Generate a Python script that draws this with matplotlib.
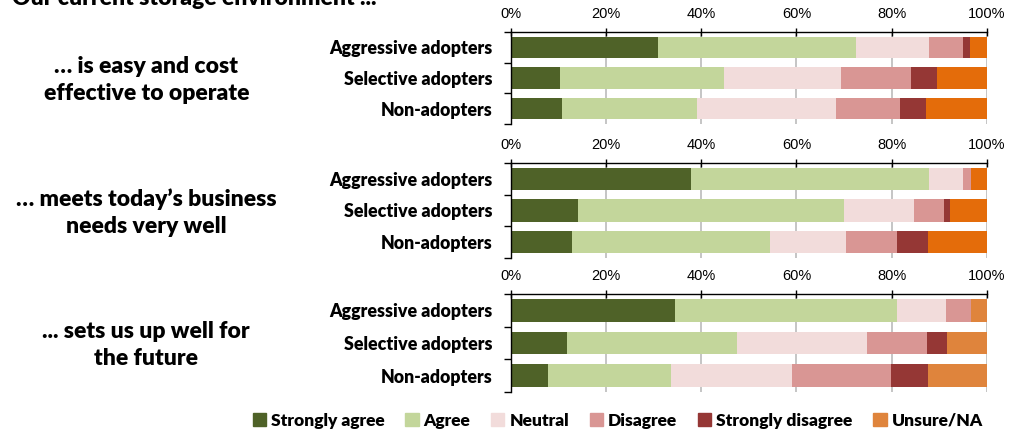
import numpy as np
import matplotlib
matplotlib.use("Agg")
import matplotlib.pyplot as plt
from matplotlib.patches import Patch

groups = ["Aggressive adopters", "Selective adopters", "Non-adopters"]
answers = ["Strongly agree", "Agree", "Neutral", "Disagree", "Strongly disagree", "Unsure/NA"]

statements = [
    "… is easy and cost\neffective to operate",
    "… meets today’s business\nneeds very well",
    "... sets us up well for\nthe future",
]

# share of respondents (%) per group, columns follow `answers`
easy_cost = [
    [30.9, 41.5, 15.5, 7.0, 1.5, 3.6],
    [10.4, 34.4, 24.5, 14.7, 5.6, 10.4],
    [10.8, 28.3, 29.2, 13.4, 5.4, 12.9],
]
business_needs = [
    [37.9, 50.0, 7.0, 1.7, 0.0, 3.4],
    [14.1, 55.9, 14.7, 6.3, 1.3, 7.7],
    [12.9, 41.5, 16.0, 10.8, 6.4, 12.4],
]
future = [
    [34.5, 46.6, 10.3, 5.2, 0.0, 3.4],
    [11.9, 35.6, 27.4, 12.6, 4.2, 8.3],
    [7.9, 25.8, 25.3, 20.8, 7.8, 12.4],
]

colors = ["#4F6228", "#C3D69B", "#F2DCDB", "#D99694", "#953735", "#E46C0A"]
unsure_light = "#DF843C"

plt.rcParams["font.family"] = ["Liberation Sans", "DejaVu Sans"]
bold = ["Lato", "DejaVu Sans"]
heavy = 800

fig = plt.figure(figsize=(10.23, 4.33), dpi=100)

# heading sits partly above the top edge
fig.text(0.012, 1.0 - 5 / 433, "Our current storage environment ...", fontsize=16.5,
         fontweight=heavy, family=bold, ha="left", va="baseline")

panels = [(0.926, 0.714), (0.624, 0.404), (0.321, 0.095)]
x0, w = 0.4992, 0.4656

for k, (data, stmt, (top, bot)) in enumerate(zip([easy_cost, business_needs, future],
                                                  statements, panels)):
    ax = fig.add_axes([x0, bot, w, top - bot])
    vals = np.array(data)
    y = np.arange(len(groups))
    left = np.zeros(len(groups))
    for j in range(len(answers)):
        c = colors[j]
        if j == 5 and k == 2:
            c = unsure_light
        ax.barh(y, vals[:, j], left=left, height=0.7, color=c, zorder=2)
        left += vals[:, j]

    ax.set_xlim(0, 100)
    ax.set_ylim(len(groups) - 0.5, -0.5)
    ax.xaxis.tick_top()
    ax.set_xticks(np.arange(0, 101, 20))
    ax.set_xticklabels([f"{t}%" for t in range(0, 101, 20)])
    ax.tick_params(axis="x", direction="inout", length=6, width=1, labelsize=10.5, pad=5)
    ax.grid(axis="x", color="#BBBBBB", lw=1.2, zorder=0)

    ax.set_yticks(y)
    ax.set_yticklabels(groups, fontsize=12.8, fontweight=heavy, family=bold)
    ax.tick_params(axis="y", which="major", length=0, pad=13)
    ax.set_yticks([-0.5, 0.5, 1.5, 2.5], minor=True)
    ax.tick_params(axis="y", which="minor", length=5, width=1, direction="out")

    for s in ["right", "bottom"]:
        ax.spines[s].set_visible(False)
    for s in ["top", "left"]:
        ax.spines[s].set_linewidth(1)

    fig.text(0.143, (top + bot) / 2 - 0.005, stmt, fontsize=16.5, fontweight=heavy,
             family=bold, ha="center", va="center", linespacing=1.35)

handles = [Patch(color=c) for c in colors[:5] + [unsure_light]]
fig.legend(handles, answers, loc="center", bbox_to_anchor=(0.604, 0.028), ncol=6,
           frameon=False, handlelength=0.75, handleheight=0.75, handletextpad=0.3,
           columnspacing=1.2, prop={"family": bold, "weight": heavy, "size": 12.5})

fig.savefig("out.png", dpi=100)
